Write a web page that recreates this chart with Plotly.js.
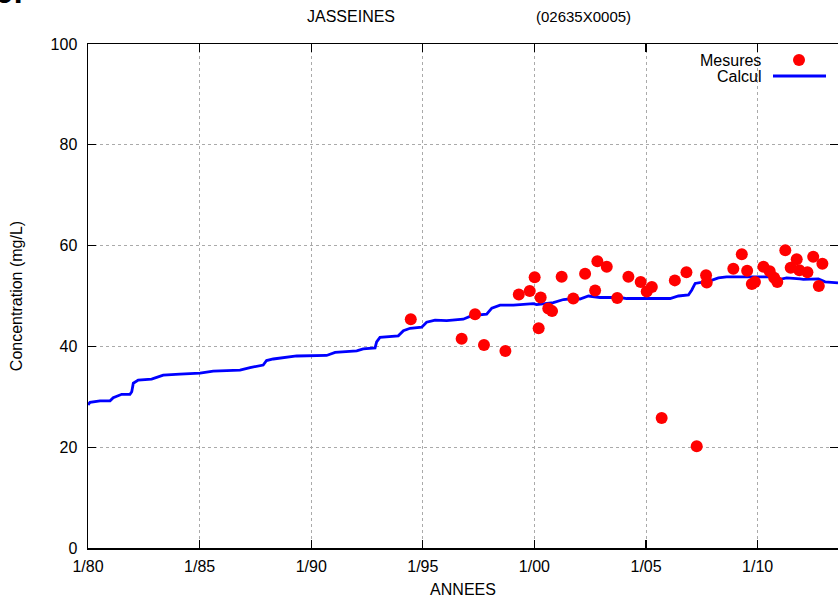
<!DOCTYPE html>
<html>
<head>
<meta charset="utf-8">
<script src="https://cdn.plot.ly/plotly-3.0.1.min.js"></script>
<style>html,body{margin:0;padding:0;background:#fff;}#chart{width:838px;height:598px;}</style>
</head>
<body>
<div id="chart"></div>
<script>
// Measured values (Mesures): decimal year, concentration mg/L
const mesuresX = [1994.46, 1996.74, 1997.34, 1997.74, 1998.70, 1999.30, 1999.79, 2000.01, 2000.19, 2000.28,
  2000.62, 2000.79, 2001.22, 2001.74, 2002.27, 2002.72, 2002.82, 2003.24, 2003.71, 2004.21,
  2004.76, 2005.03, 2005.26, 2005.70, 2006.29, 2006.81, 2007.27, 2007.69, 2007.72, 2008.91,
  2009.29, 2009.53, 2009.74, 2009.88, 2010.26, 2010.54, 2010.74, 2010.88, 2011.24, 2011.48,
  2011.75, 2011.87, 2012.23, 2012.49, 2012.74, 2012.90];
const mesuresY = [45.4, 41.5, 46.4, 40.3, 39.1, 50.3, 51.0, 53.7, 43.6, 49.7,
  47.5, 47.0, 53.8, 49.5, 54.4, 51.1, 56.9, 55.8, 49.6, 53.8,
  52.8, 50.9, 51.8, 25.8, 53.1, 54.7, 20.2, 54.1, 52.7, 55.4,
  58.3, 55.0, 52.4, 52.8, 55.8, 54.9, 53.6, 52.8, 59.1, 55.6,
  57.3, 55.1, 54.7, 57.8, 52.0, 56.4];

// Calculated values (Calcul)
const calculX = [1980.0, 1980.09, 1980.54, 1980.99, 1981.13, 1981.51, 1981.88, 1981.96, 1982.03, 1982.25,
  1982.85, 1983.37, 1984.12, 1985.02, 1985.61, 1986.81, 1987.26, 1987.85, 1988.0, 1988.3,
  1989.35, 1990.69, 1991.07, 1992.04, 1992.33, 1992.86, 1992.93, 1993.08, 1993.90, 1994.13,
  1994.43, 1994.95, 1995.17, 1995.55, 1996.07, 1996.81, 1997.19, 1997.86, 1998.09, 1998.46,
  1999.06, 1999.95, 2000.10, 2000.85, 2001.30, 2001.74, 2002.04, 2002.42, 2002.94, 2003.84,
  2004.13, 2005.18, 2006.08, 2006.45, 2006.90, 2007.05, 2007.20, 2007.87, 2008.24, 2008.61,
  2009.96, 2010.70, 2011.0, 2011.30, 2011.90, 2012.05, 2012.72, 2013.02, 2013.60];
const calculY = [28.4, 28.9, 29.2, 29.2, 29.8, 30.5, 30.5, 31.0, 32.7, 33.3,
  33.5, 34.3, 34.5, 34.7, 35.1, 35.3, 35.8, 36.3, 37.2, 37.5,
  38.1, 38.2, 38.8, 39.1, 39.5, 39.7, 40.9, 41.8, 42.1, 43.1,
  43.6, 43.8, 44.8, 45.2, 45.1, 45.4, 46.1, 46.4, 47.6, 48.2,
  48.2, 48.5, 48.3, 48.7, 49.3, 49.5, 49.4, 50.0, 49.7, 49.7,
  49.5, 49.5, 49.5, 50.0, 50.2, 51.2, 52.5, 53.0, 53.6, 53.8,
  53.8, 53.8, 53.3, 53.6, 53.4, 53.3, 53.4, 52.8, 52.6];

const tickYears = [1980, 1985, 1990, 1995, 2000, 2005, 2010];
const tickLabels = ['1/80', '1/85', '1/90', '1/95', '1/00', '1/05', '1/10'];
const yTicks = [0, 20, 40, 60, 80, 100];

const FONT = 'Liberation Sans, Arial, sans-serif';
const FS = 16;

const traces = [
  {x: calculX, y: calculY, type: 'scatter', mode: 'lines', name: 'Calcul',
   line: {color: '#0000ff', width: 2.8}, showlegend: false, cliponaxis: true},
  {x: mesuresX, y: mesuresY, type: 'scatter', mode: 'markers', name: 'Mesures',
   marker: {color: '#ff0000', size: 12, line: {width: 0}}, showlegend: false, cliponaxis: true}
];

const W = 750, H = 504; // plot area px
function px(x) { return (x - 88) / W; }
function py(y) { return (548 - y) / H; }

const layout = {
  width: 838, height: 598,
  margin: {l: 88, r: 0, t: 44, b: 50, pad: 0},
  paper_bgcolor: '#fff', plot_bgcolor: '#fff',
  font: {family: FONT, size: FS, color: '#000'},
  showlegend: false,
  xaxis: {
    range: [1980, 2013.6], tickvals: tickYears, ticktext: tickLabels,
    ticks: 'inside', ticklen: 8, tickwidth: 1.2, tickcolor: '#000',
    showline: true, linecolor: '#000', linewidth: 1.5, mirror: 'ticks',
    showgrid: true, gridcolor: '#aaaaaa', griddash: 'dot', gridwidth: 1,
    zeroline: false, tickfont: {family: FONT, size: FS}, ticklabelstandoff: 3,
    title: {text: 'ANNEES', font: {family: FONT, size: FS}, standoff: 10}
  },
  yaxis: {
    range: [0, 100], tickvals: yTicks,
    ticks: 'inside', ticklen: 8, tickwidth: 1.2, tickcolor: '#000',
    showline: true, linecolor: '#000', linewidth: 1.5, mirror: 'ticks',
    showgrid: true, gridcolor: '#aaaaaa', griddash: 'dot', gridwidth: 1,
    zeroline: false, tickfont: {family: FONT, size: FS}, ticklabelstandoff: 6,
    title: {text: 'Concentration (mg/L)', font: {family: FONT, size: FS}, standoff: 24}
  },
  annotations: [
    {text: 'JASSEINES', xref: 'paper', yref: 'paper', x: px(351), y: py(17), xanchor: 'center', yanchor: 'middle', showarrow: false, font: {family: FONT, size: FS}},
    {text: '(02635X0005)', xref: 'paper', yref: 'paper', x: px(583), y: py(17), xanchor: 'center', yanchor: 'middle', showarrow: false, font: {family: FONT, size: 15}},
    {text: 'Mesures', xref: 'paper', yref: 'paper', x: px(763), y: py(60), xanchor: 'right', yanchor: 'middle', showarrow: false, font: {family: FONT, size: FS}},
    {text: 'Calcul', xref: 'paper', yref: 'paper', x: px(763), y: py(76), xanchor: 'right', yanchor: 'middle', showarrow: false, font: {family: FONT, size: FS}},
    {text: '<b>9.</b>', xref: 'paper', yref: 'paper', x: px(-6), y: py(12), xanchor: 'left', yanchor: 'bottom', showarrow: false, font: {family: FONT, size: 32}}
  ],
  shapes: [
    {type: 'circle', xref: 'paper', yref: 'paper', x0: px(793), x1: px(805), y0: py(54), y1: py(66), fillcolor: '#ff0000', line: {width: 0}},
    {type: 'line', xref: 'paper', yref: 'paper', x0: px(773), x1: px(826), y0: py(76), y1: py(76), line: {color: '#0000ff', width: 2.8}}
  ]
};

Plotly.newPlot('chart', traces, layout, {displayModeBar: false, staticPlot: true});
</script>
</body>
</html>
